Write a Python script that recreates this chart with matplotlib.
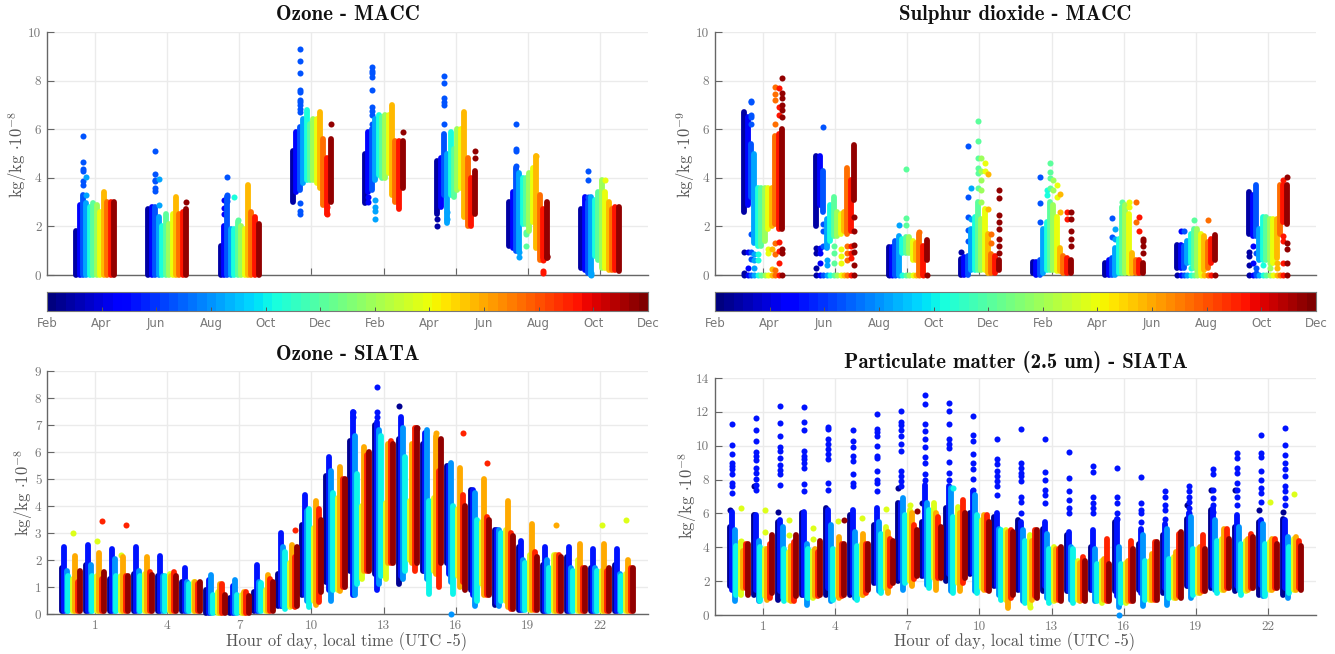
import matplotlib
matplotlib.use("Agg")
import matplotlib.pyplot as plt
import numpy as np

plt.rcParams['mathtext.fontset'] = 'cm'
plt.rcParams['axes.unicode_minus'] = False

W, H = 1335, 654

month_labels = ['Feb', 'Apr', 'Jun', 'Aug', 'Oct', 'Dec', 'Feb', 'Apr', 'Jun', 'Aug', 'Oct', 'Dec']
hour_ticks = [1, 4, 7, 10, 13, 16, 19, 22]
macc_hours = [1, 4, 7, 10, 13, 16, 19, 22]
siata_hours = list(range(24))

# colour-bin position within the season for each vertical column
macc_bins = [0.04, 0.13, 0.21, 0.29, 0.38, 0.46, 0.54, 0.63, 0.71, 0.79, 0.88, 0.97]
siata_bins = [0.03, 0.15, 0.27, 0.36, 0.62, 0.72, 0.87, 0.98]

# ---- Ozone - MACC (one row per hour, one value per colour bin)
o3m_hi = [
    [1.8, 2.9, 3.3, 2.95, 2.8, 2.95, 2.9, 2.6, 3.4, 3.0, 3.0, 3.0],
    [2.7, 2.8, 2.8, 2.4, 2.0, 2.5, 2.1, 2.5, 3.2, 2.5, 2.6, 2.7],
    [1.2, 2.0, 3.2, 1.9, 1.9, 2.2, 2.0, 1.9, 3.7, 2.6, 2.4, 2.1],
    [5.1, 5.9, 6.1, 6.4, 6.8, 6.2, 6.4, 6.4, 6.7, 5.6, 4.8, 5.6],
    [5.0, 5.9, 6.0, 6.4, 6.6, 6.5, 6.6, 6.6, 7.0, 5.5, 5.5, 5.5],
    [4.7, 4.8, 5.8, 5.0, 5.9, 5.2, 6.0, 6.0, 6.7, 4.8, 4.0, 4.3],
    [3.0, 3.4, 4.4, 4.2, 4.0, 4.0, 4.2, 4.4, 4.9, 3.3, 2.7, 3.0],
    [2.7, 3.2, 3.0, 3.2, 3.1, 3.4, 3.9, 3.4, 3.0, 2.7, 2.8, 2.8],
]
o3m_lo = [
    [0.0] * 12,
    [0.0] * 12,
    [0.0] * 12,
    [3.0, 3.4, 3.5, 3.8, 3.9, 3.9, 3.9, 3.8, 3.6, 2.9, 2.5, 3.0],
    [2.95, 3.4, 3.5, 3.9, 4.1, 4.0, 4.0, 4.2, 3.3, 3.0, 2.7, 3.6],
    [2.5, 2.8, 3.3, 2.15, 3.3, 3.2, 3.5, 3.6, 2.4, 2.0, 2.0, 2.5],
    [1.2, 1.1, 1.0, 1.0, 2.1, 2.1, 1.8, 2.2, 1.1, 0.6, 0.7, 0.7],
    [0.3, 0.2, 0.1, 0.0, 0.8, 0.6, 0.3, 0.3, 0.2, 0.2, 0.2, 0.15],
]
o3m_out = [
    (1, 2, [5.7, 4.65, 4.35, 4.3, 3.85, 3.7]), (1, 3, [4.05, 3.3]),
    (4, 2, [5.1, 4.15, 3.9, 3.85, 3.6, 3.45]), (4, 3, [3.95, 2.9]), (4, 11, [3.0]),
    (7, 2, [4.05, 3.3, 3.2, 3.05]), (7, 1, [3.1, 2.75, 2.5]), (7, 4, [3.2]), (7, 5, [2.25]),
    (10, 2, [9.3, 8.8, 8.3, 7.6, 7.55, 7.2, 7.1, 7.0, 6.85, 6.7, 2.95, 2.65, 2.5]),
    (10, 11, [6.2]), (10, 10, [2.8, 2.5]),
    (13, 2, [8.55, 8.4, 8.3, 8.15, 7.6, 6.9, 6.75, 6.6, 6.2]), (13, 3, [3.1, 2.8, 2.65, 2.3]),
    (13, 11, [5.9]), (13, 1, [3.0, 3.2]),
    (16, 2, [8.2, 7.9, 7.3, 7.1, 7.0, 6.2]), (16, 3, [2.3, 2.6]), (16, 0, [2.0, 2.3]), (16, 11, [5.1, 4.8]),
    (19, 2, [6.2, 5.2, 5.1, 4.5]), (19, 3, [0.75, 0.95]), (19, 5, [1.75, 1.7, 1.2]),
    (19, 8, [4.9]), (19, 10, [0.1, 0.15, 0.6]), (19, 11, [0.75, 0.8]),
    (22, 2, [4.3, 3.9, 3.2]), (22, 7, [3.9]), (22, 3, [0.0, 0.1]),
]

# ---- Sulphur dioxide - MACC
so2_hi = [
    [6.7, 6.5, 5.4, 5.0, 3.6, 3.6, 3.6, 3.6, 3.6, 5.7, 5.8, 6.0],
    [4.9, 4.9, 4.3, 2.3, 2.9, 3.2, 2.6, 2.5, 2.6, 4.4, 3.9, 5.35],
    [1.15, 1.15, 1.4, 1.6, 1.5, 1.55, 1.55, 1.4, 1.3, 1.7, 1.2, 1.45],
    [0.65, 0.75, 0.8, 1.9, 2.4, 3.0, 2.3, 2.7, 1.7, 0.85, 0.8, 0.6],
    [0.55, 0.55, 0.6, 1.9, 2.2, 3.0, 2.9, 2.4, 1.1, 0.8, 0.7, 0.6],
    [0.5, 0.6, 0.7, 1.1, 1.5, 2.8, 2.9, 2.5, 0.9, 0.6, 0.6, 0.5],
    [1.25, 1.25, 1.2, 1.4, 1.7, 1.9, 1.9, 1.7, 1.6, 1.35, 1.5, 1.65],
    [3.4, 3.3, 3.7, 1.9, 2.4, 2.4, 2.3, 2.3, 2.3, 3.7, 3.7, 3.7],
]
so2_lo = [
    [2.6, 2.9, 3.2, 1.3, 1.2, 1.2, 1.4, 1.9, 2.0, 2.1, 1.9, 1.9],
    [2.0, 2.9, 2.6, 1.1, 1.4, 1.6, 1.6, 1.7, 1.8, 1.7, 1.8, 3.1],
    [0.0, 0.0, 0.0, 0.0, 0.9, 0.9, 0.9, 0.6, 0.6, 0.0, 0.0, 0.6],
    [0.0, 0.0, 0.0, 0.2, 0.2, 0.2, 0.2, 0.2, 0.1, 0.1, 0.1, 0.2],
    [0.1, 0.0, 0.0, 0.1, 0.2, 0.2, 0.2, 0.15, 0.15, 0.1, 0.1, 0.1],
    [0.0, 0.0, 0.0, 0.0, 0.1, 0.1, 0.1, 0.1, 0.1, 0.1, 0.1, 0.1],
    [0.3, 0.3, 0.3, 0.5, 0.5, 0.3, 0.3, 0.1, 0.2, 0.3, 0.5, 0.6],
    [1.7, 1.6, 1.6, 0.6, 0.6, 0.6, 0.6, 0.5, 0.7, 1.7, 2.2, 2.1],
]
so2_zero_hours = [1, 4, 7, 19, 22]
so2_out = [
    (1, 0, [0.95, 0.1]), (1, 1, [0.95, 0.3]), (1, 2, [7.15, 7.1, 6.6, 6.5, 6.2, 1.7, 0.95, 0.65]),
    (1, 3, [0.85, 0.6, 0.3]), (1, 4, [0.85, 0.6]), (1, 7, [1.05, 0.9]), (1, 8, [1.05, 0.25]),
    (1, 9, [7.75, 7.45, 7.2, 6.2, 1.3, 0.85, 0.2]), (1, 10, [7.7, 6.9, 6.6, 1.35, 1.0, 0.5]),
    (1, 11, [8.1, 7.5, 7.3, 7.0, 6.8, 6.5, 1.05, 0.9]),
    (4, 2, [6.1, 2.1, 1.8, 1.2]), (4, 0, [1.1, 0.9, 0.3]), (4, 1, [1.1, 0.9, 0.5]), (4, 3, [0.6, 0.4]),
    (4, 5, [1.2, 0.9, 0.5]), (4, 7, [1.05, 0.8, 0.5]), (4, 9, [1.2, 0.9, 0.6]), (4, 10, [1.2, 0.9, 0.7]),
    (4, 11, [2.4, 1.8, 1.25, 0.95, 0.4]),
    (7, 5, [4.35, 2.35, 2.05]), (7, 3, [2.05]), (7, 9, [1.75]),
    (10, 0, [0.95]), (10, 2, [5.3, 3.2, 2.4, 1.85, 1.4]), (10, 3, [3.6, 2.3]), (10, 5, [6.35, 5.5, 4.8, 4.4, 4.2, 3.6]),
    (10, 6, [4.8, 4.3, 3.9, 3.5, 3.0]), (10, 7, [4.6, 4.3]), (10, 8, [4.15, 2.7]), (10, 9, [1.7, 1.3]),
    (10, 11, [3.5, 3.15, 2.45, 2.2, 1.9, 1.5, 1.2, 0.9]),
    (13, 2, [4.05, 2.95, 2.2]), (13, 4, [3.5, 3.3]), (13, 5, [4.6, 4.25, 4.0, 3.6]), (13, 6, [3.9, 3.5]),
    (13, 7, [3.7, 3.2]), (13, 8, [3.35, 2.6]), (13, 10, [2.6, 2.3]), (13, 11, [2.6, 2.3, 1.8, 1.5, 1.2]),
    (16, 2, [2.35, 1.55]), (16, 3, [1.9, 1.5]), (16, 5, [3.0, 2.8]), (16, 7, [3.0, 2.8]), (16, 9, [3.0, 2.2]),
    (16, 10, [2.4, 1.8]), (16, 11, [1.5, 1.4, 1.2, 0.9]),
    (19, 1, [1.8]), (19, 2, [1.8]), (19, 5, [2.25]), (19, 9, [2.25]), (19, 4, [0.3]), (19, 6, [0.15]),
    (22, 0, [0.95, 0.8, 0.4]), (22, 1, [1.2, 0.5]), (22, 2, [0.9, 0.3, 0.1]), (22, 4, [0.4]),
    (22, 6, [0.5, 0.3]), (22, 8, [0.5, 0.3]), (22, 10, [3.9, 1.6, 1.4, 0.5]), (22, 11, [4.05, 1.3, 1.05, 0.5]),
]

# ---- Ozone - SIATA (one row per hour, one value per colour bin)
o3s_hi = [
    [1.7, 2.5, 1.6, 1.4, 1.3, 2.15, 1.2, 1.6],
    [1.8, 2.55, 1.8, 1.4, 1.4, 2.25, 1.3, 1.55],
    [1.3, 2.4, 2.05, 1.4, 1.4, 2.1, 1.4, 1.4],
    [1.5, 2.5, 1.6, 1.4, 1.5, 2.1, 1.55, 1.45],
    [1.4, 2.15, 1.4, 1.4, 1.5, 1.4, 1.55, 1.4],
    [1.2, 1.7, 1.2, 1.1, 1.2, 1.2, 1.1, 1.2],
    [0.9, 1.25, 1.45, 0.7, 0.8, 1.1, 1.1, 0.7],
    [0.6, 1.05, 1.25, 0.7, 0.7, 0.8, 0.8, 0.65],
    [0.8, 1.8, 1.2, 1.15, 0.9, 1.45, 1.3, 1.2],
    [1.5, 3.0, 2.5, 2.3, 1.9, 2.55, 2.1, 2.5],
    [3.3, 4.4, 3.8, 3.9, 3.2, 4.2, 3.9, 3.5],
    [5.1, 5.8, 5.3, 4.5, 4.3, 5.45, 5.0, 5.0],
    [6.4, 7.5, 6.6, 5.2, 4.0, 6.2, 5.9, 6.0],
    [7.0, 7.1, 6.8, 6.6, 4.1, 6.3, 6.4, 6.3],
    [6.5, 7.3, 6.9, 5.8, 4.2, 6.3, 6.9, 6.9],
    [6.3, 6.7, 6.8, 4.2, 4.3, 6.6, 5.3, 6.5],
    [5.5, 5.5, 5.6, 4.0, 3.9, 5.4, 4.4, 4.0],
    [4.6, 4.6, 4.5, 3.5, 3.4, 5.0, 3.6, 3.5],
    [3.1, 3.1, 3.1, 3.0, 3.1, 4.2, 3.0, 2.9],
    [2.5, 2.7, 2.0, 1.9, 2.2, 3.35, 2.3, 2.1],
    [1.8, 2.5, 2.0, 1.7, 2.2, 2.2, 2.2, 2.1],
    [2.1, 2.5, 1.7, 1.6, 2.0, 2.6, 1.7, 1.7],
    [1.7, 2.4, 1.7, 1.6, 1.6, 2.6, 1.6, 1.7],
    [1.8, 2.4, 1.5, 1.4, 1.5, 2.0, 1.7, 1.7],
]
o3s_lo = [
    [0.1] * 8, [0.1] * 8, [0.1] * 8, [0.1] * 8, [0.1] * 8, [0.1] * 8,
    [0.05] * 8, [0.05] * 8, [0.1] * 8,
    [0.3, 0.3, 0.3, 0.2, 0.25, 0.3, 0.25, 0.3],
    [0.7, 0.7, 0.5, 0.25, 0.5, 0.35, 0.45, 0.8],
    [1.2, 0.9, 0.5, 0.9, 0.9, 0.85, 1.0, 1.0],
    [1.6, 0.7, 0.7, 1.1, 1.3, 1.6, 1.6, 1.6],
    [1.5, 0.9, 1.1, 1.4, 1.3, 1.9, 1.9, 1.9],
    [1.1, 1.4, 1.3, 1.6, 2.0, 1.9, 1.6, 1.9],
    [1.6, 1.6, 1.3, 0.75, 1.6, 1.5, 1.0, 1.9],
    [1.9, 1.5, 1.2, 0.75, 1.4, 1.0, 1.2, 0.9],
    [0.9, 0.7, 0.3, 0.5, 1.1, 0.7, 0.7, 0.7],
    [0.35, 0.4, 0.3, 0.5, 0.5, 0.25, 0.2, 0.2],
    [0.15] * 8, [0.1] * 8, [0.1] * 8, [0.1] * 8, [0.1] * 8,
]
o3s_out = [
    (0, 4, [3.0]), (1, 4, [2.7]), (1, 6, [3.45]), (2, 6, [3.3]), (2, 4, [2.2]),
    (9, 6, [3.1]), (13, 1, [8.4, 7.5, 7.3]), (14, 0, [7.7]), (14, 7, [6.9]), (14, 6, [6.9]),
    (16, 2, [0.0]), (16, 6, [6.7]), (17, 6, [5.6]), (20, 5, [3.3]), (22, 4, [3.3]), (23, 4, [3.5]),
    (15, 5, [6.7]), (12, 1, [7.5, 7.3]),
]

# ---- Particulate matter (2.5 um) - SIATA
pm_hi = [
    [5.2, 6.1, 5.0, 4.1, 4.3, 3.8, 4.2, 4.2],
    [5.9, 5.9, 4.4, 4.0, 3.9, 3.9, 4.2, 4.7],
    [5.5, 5.6, 5.2, 3.9, 3.7, 4.1, 4.3, 4.7],
    [6.0, 6.1, 4.2, 3.9, 3.8, 3.9, 3.7, 4.4],
    [6.3, 6.2, 5.3, 3.9, 3.9, 4.6, 4.2, 4.2],
    [5.9, 6.2, 4.9, 4.1, 4.2, 4.8, 4.2, 4.2],
    [5.3, 6.3, 5.5, 4.8, 5.2, 4.9, 4.5, 4.4],
    [6.6, 6.6, 6.9, 5.9, 6.2, 6.0, 5.3, 5.0],
    [5.5, 7.7, 6.6, 6.2, 6.6, 6.0, 5.8, 5.2],
    [6.3, 7.6, 7.5, 5.8, 6.4, 6.0, 6.8, 6.0],
    [6.0, 7.3, 7.1, 5.9, 5.6, 5.9, 5.9, 5.5],
    [5.8, 6.0, 5.1, 5.0, 5.0, 4.9, 5.0, 4.9],
    [5.6, 5.5, 5.0, 4.4, 4.7, 4.4, 5.0, 5.0],
    [5.1, 5.5, 4.8, 3.9, 4.0, 3.9, 3.9, 4.0],
    [4.7, 4.9, 4.0, 3.9, 3.2, 3.1, 3.4, 3.2],
    [4.0, 5.0, 3.9, 3.0, 3.2, 3.3, 4.5, 3.0],
    [5.5, 5.7, 4.0, 3.0, 3.1, 3.2, 4.4, 3.9],
    [4.2, 5.1, 4.7, 3.2, 3.2, 3.6, 4.3, 4.3],
    [4.7, 5.4, 5.1, 3.3, 3.4, 3.7, 4.8, 4.9],
    [5.7, 6.0, 5.8, 3.9, 3.9, 4.0, 4.7, 3.9],
    [6.2, 6.3, 5.6, 4.4, 4.5, 5.1, 5.1, 4.5],
    [5.2, 5.9, 5.2, 4.2, 4.4, 4.5, 4.8, 4.6],
    [5.5, 5.6, 5.4, 4.2, 4.3, 4.5, 4.5, 4.2],
    [5.7, 5.6, 4.6, 4.0, 4.5, 4.6, 4.4, 4.1],
]
pm_lo = [
    [1.7, 1.5, 0.8, 1.2, 1.2, 1.6, 1.6, 1.2],
    [1.2, 1.5, 0.8, 0.8, 1.1, 0.9, 1.0, 1.3],
    [0.9, 1.4, 1.0, 0.8, 0.9, 0.8, 0.8, 1.1],
    [1.2, 1.2, 0.6, 1.0, 1.0, 1.1, 1.1, 1.2],
    [1.2, 1.6, 0.8, 0.9, 1.1, 1.0, 1.1, 1.2],
    [1.2, 1.3, 1.0, 0.9, 1.2, 1.2, 1.3, 1.5],
    [1.9, 1.9, 1.4, 1.3, 1.6, 1.3, 1.7, 1.9],
    [2.0, 2.1, 1.5, 1.9, 2.0, 1.7, 2.1, 2.3],
    [2.3, 2.3, 1.8, 1.6, 2.2, 1.5, 2.2, 2.2],
    [2.0, 2.4, 1.4, 1.3, 1.9, 1.4, 1.9, 2.2],
    [2.4, 2.5, 1.4, 1.3, 1.6, 1.5, 1.5, 1.4],
    [1.7, 1.7, 1.2, 0.9, 0.9, 0.4, 1.0, 1.2],
    [1.5, 1.5, 0.8, 0.7, 0.6, 0.9, 1.1, 1.0],
    [1.4, 1.7, 1.0, 0.7, 0.8, 0.9, 0.9, 0.8],
    [1.4, 1.4, 0.9, 0.7, 0.9, 0.8, 0.9, 0.8],
    [1.5, 1.5, 0.8, 0.8, 0.7, 0.9, 0.8, 0.8],
    [1.4, 1.1, 0.5, 0.7, 0.7, 0.8, 0.8, 0.8],
    [1.5, 1.3, 0.55, 0.9, 0.9, 0.9, 0.9, 0.9],
    [1.3, 1.6, 0.6, 1.0, 1.0, 1.0, 1.1, 1.0],
    [1.7, 1.7, 1.0, 1.2, 1.3, 1.3, 1.4, 1.4],
    [1.6, 1.7, 1.5, 1.3, 1.5, 1.5, 1.6, 1.6],
    [1.4, 1.7, 1.5, 1.2, 1.4, 1.5, 1.6, 1.6],
    [1.2, 1.8, 1.1, 1.1, 1.5, 1.5, 1.6, 1.6],
    [1.2, 1.6, 1.0, 1.3, 1.5, 1.5, 1.6, 1.5],
]
pm_blue_out = [
    [11.3, 10.05, 9.5, 9.0, 8.8, 8.6, 8.3, 7.8, 7.6, 7.2],
    [11.65, 10.95, 10.25, 9.6, 9.4, 9.15, 8.7, 8.4, 8.05, 7.7, 7.4],
    [12.35, 11.35, 10.55, 9.95, 9.7, 9.3, 8.85, 8.55, 8.35, 7.7],
    [12.3, 11.4, 10.9, 9.7, 9.4, 9.2, 8.95, 8.7, 7.75, 7.3],
    [11.1, 11.0, 10.4, 10.1, 9.8, 9.5, 9.2, 7.8, 7.4],
    [10.95, 10.3, 9.9, 9.4, 9.1, 8.35, 7.8, 7.6],
    [11.85, 11.0, 10.8, 10.55, 10.0, 9.4, 9.3, 8.5, 8.0, 7.8, 7.3],
    [12.05, 11.4, 11.2, 10.95, 10.55, 10.1, 9.7, 8.5, 8.2, 7.9, 7.6],
    [13.0, 12.45, 11.3, 10.85, 10.4, 9.9, 9.35, 8.95, 8.3, 8.0],
    [12.5, 12.05, 11.3, 10.4, 10.1, 9.85, 9.05, 8.4, 8.0],
    [11.75, 10.65, 10.3, 9.5, 9.0, 8.6, 8.05, 7.4],
    [10.4, 9.2, 8.9, 8.5, 8.2, 7.9, 7.6, 7.1],
    [11.0, 9.0, 8.7, 8.4, 8.2, 7.9, 7.0, 6.7, 6.0],
    [10.4, 8.45, 7.95, 7.4, 7.1, 6.6],
    [9.65, 8.1, 7.3, 6.8, 6.3, 6.0],
    [8.8, 8.45, 7.0, 6.6, 6.3, 6.0],
    [8.7, 7.0, 6.6, 6.0, 5.7],
    [8.15, 6.6, 6.2, 6.0, 5.5],
    [7.3, 7.0, 6.5, 6.2, 5.7],
    [7.6, 7.3, 7.0, 6.7, 6.3, 6.0],
    [8.65, 8.3, 7.4, 6.9, 6.5, 6.1],
    [9.55, 9.3, 8.7, 8.4, 7.8, 7.4, 7.0, 6.5],
    [10.65, 9.55, 9.35, 8.5, 8.0, 7.5, 7.2, 6.7],
    [11.05, 10.05, 9.45, 9.0, 8.6, 8.2, 7.6, 7.3, 6.9, 6.5],
]
pm_out = [
    (0, 0, [6.2]), (1, 0, [7.6, 5.9]), (7, 0, [7.5]), (8, 0, [6.6]), (2, 0, [6.1]),
    (0, 4, [6.3, 4.4]), (1, 4, [6.2, 4.9]), (2, 4, [5.6, 4.7]), (3, 4, [5.15, 4.5]),
    (4, 4, [5.55]), (5, 4, [5.75]), (6, 4, [6.25]), (7, 4, [6.5]), (22, 4, [6.65]), (23, 4, [7.15]),
    (4, 7, [5.6]), (7, 7, [6.15]), (9, 3, [7.5]), (16, 2, [0.0]), (12, 4, [0.45]),
    (19, 0, [6.5]), (20, 0, [7.4]), (21, 0, [7.4]), (22, 0, [6.2]), (23, 0, [6.1]),
]

cmap = plt.get_cmap('jet', 64)
fig = plt.figure(figsize=(W / 100, H / 100), dpi=100)

LW = 4.2
DOT = 19


def px_axes(x0, y0, x1, y1, **kw):
    return fig.add_axes([x0 / W, 1 - y1 / H, (x1 - x0) / W, (y1 - y0) / H], **kw)


def style(ax, ymax, yticks, title, title_y, show_x):
    ax.set_xlim(-1, 24)
    ax.set_ylim(0, ymax)
    ax.set_xticks(hour_ticks)
    ax.set_yticks(yticks)
    ax.set_xticklabels([str(h) for h in hour_ticks] if show_x else [],
                       family='cmr10', fontsize=9.5, color='#777777')
    ax.set_yticklabels([str(v) for v in yticks], family='cmr10', fontsize=9.5, color='#777777')
    ax.tick_params(direction='in', length=5, width=0.8, color='#666666', pad=4)
    ax.grid(True, color='#ebebeb', lw=1.0)
    ax.set_axisbelow(True)
    for s in ('top', 'right'):
        ax.spines[s].set_visible(False)
    for s in ('left', 'bottom'):
        ax.spines[s].set_color('#666666')
        ax.spines[s].set_linewidth(1.0)
    p = ax.get_position()
    fig.text((p.x0 + p.x1) / 2, 1 - title_y / H, title, family='cmb10', fontsize=15,
             ha='center', va='center', color='#111111')


def draw(ax, hours, bins, hi, lo, out, half):
    for b, frac in enumerate(bins):
        c = cmap(frac)
        for i, h in enumerate(hours):
            x = h + (frac - 0.5) * 2 * half
            ax.plot([x, x], [lo[i][b], hi[i][b]], color=c, lw=LW, solid_capstyle='round',
                    clip_on=False, zorder=3 + b)
    for h, b, vals in out:
        x = h + (bins[b] - 0.5) * 2 * half
        ax.scatter([x] * len(vals), vals, s=DOT, color=cmap(bins[b]), linewidths=0,
                   clip_on=False, zorder=3 + b)


def colorbar(x0, x1):
    ax = px_axes(x0, 292, x1, 311)
    ax.imshow(np.linspace(0, 1, 64)[None, :], cmap=cmap, aspect='auto', extent=[0, 22, 0, 1])
    ax.set_xticks(range(0, 23, 2))
    ax.set_xticklabels(month_labels, family='DejaVu Sans', fontsize=8.5, color='#777777')
    ax.set_yticks([])
    ax.tick_params(direction='in', length=3, width=0.7, color='#555555', pad=4)
    for s in ax.spines.values():
        s.set_color('#777777')
        s.set_linewidth(0.8)


def ylabel(x, y, exp):
    fig.text(x / W, 1 - y / H, r'kg/kg $\cdot 10^{-%d}$' % exp, rotation=90, family='cmr10',
             fontsize=12, ha='center', va='center', color='#555555')


# top-left
ax = px_axes(47, 32, 648, 275)
style(ax, 10, [0, 2, 4, 6, 8, 10], 'Ozone - MACC', 15, False)
draw(ax, macc_hours, macc_bins, o3m_hi, o3m_lo, o3m_out, 0.85)
ylabel(18, 155, 8)
colorbar(47, 648)

# top-right
ax = px_axes(715, 32, 1316, 275)
style(ax, 10, [0, 2, 4, 6, 8, 10], 'Sulphur dioxide - MACC', 15, False)
draw(ax, macc_hours, macc_bins, so2_hi, so2_lo, so2_out, 0.85)
for h in so2_zero_hours:
    for b, frac in enumerate(macc_bins):
        ax.scatter([h + (frac - 0.5) * 1.7], [0], s=DOT, color=cmap(frac), linewidths=0,
                   clip_on=False, zorder=3 + b)
ylabel(686, 155, 9)
colorbar(715, 1316)

# bottom-left
ax = px_axes(47, 371, 648, 614)
style(ax, 9, list(range(10)), 'Ozone - SIATA', 355, True)
draw(ax, siata_hours, siata_bins, o3s_hi, o3s_lo, o3s_out, 0.4)
ylabel(24, 493, 8)
fig.text(347 / W, 1 - 642 / H, 'Hour of day, local time (UTC -5)', family='cmr10', fontsize=11.9,
         ha='center', va='center', color='#555555')

# bottom-right
ax = px_axes(715, 378, 1316, 615)
style(ax, 14, list(range(0, 15, 2)), 'Particulate matter (2.5 um) - SIATA', 362, True)
draw(ax, siata_hours, siata_bins, pm_hi, pm_lo, pm_out, 0.4)
blue_x = []
blue_y = []
for h, vals in zip(siata_hours, pm_blue_out):
    blue_x += [h + (siata_bins[1] - 0.5) * 0.8] * len(vals)
    blue_y += vals
ax.scatter(blue_x, blue_y, s=DOT, color=cmap(siata_bins[1]), linewidths=0, clip_on=False, zorder=4)
ylabel(688, 496, 8)
fig.text(1015 / W, 1 - 642 / H, 'Hour of day, local time (UTC -5)', family='cmr10', fontsize=11.9,
         ha='center', va='center', color='#555555')

fig.savefig('out.png', dpi=100)
